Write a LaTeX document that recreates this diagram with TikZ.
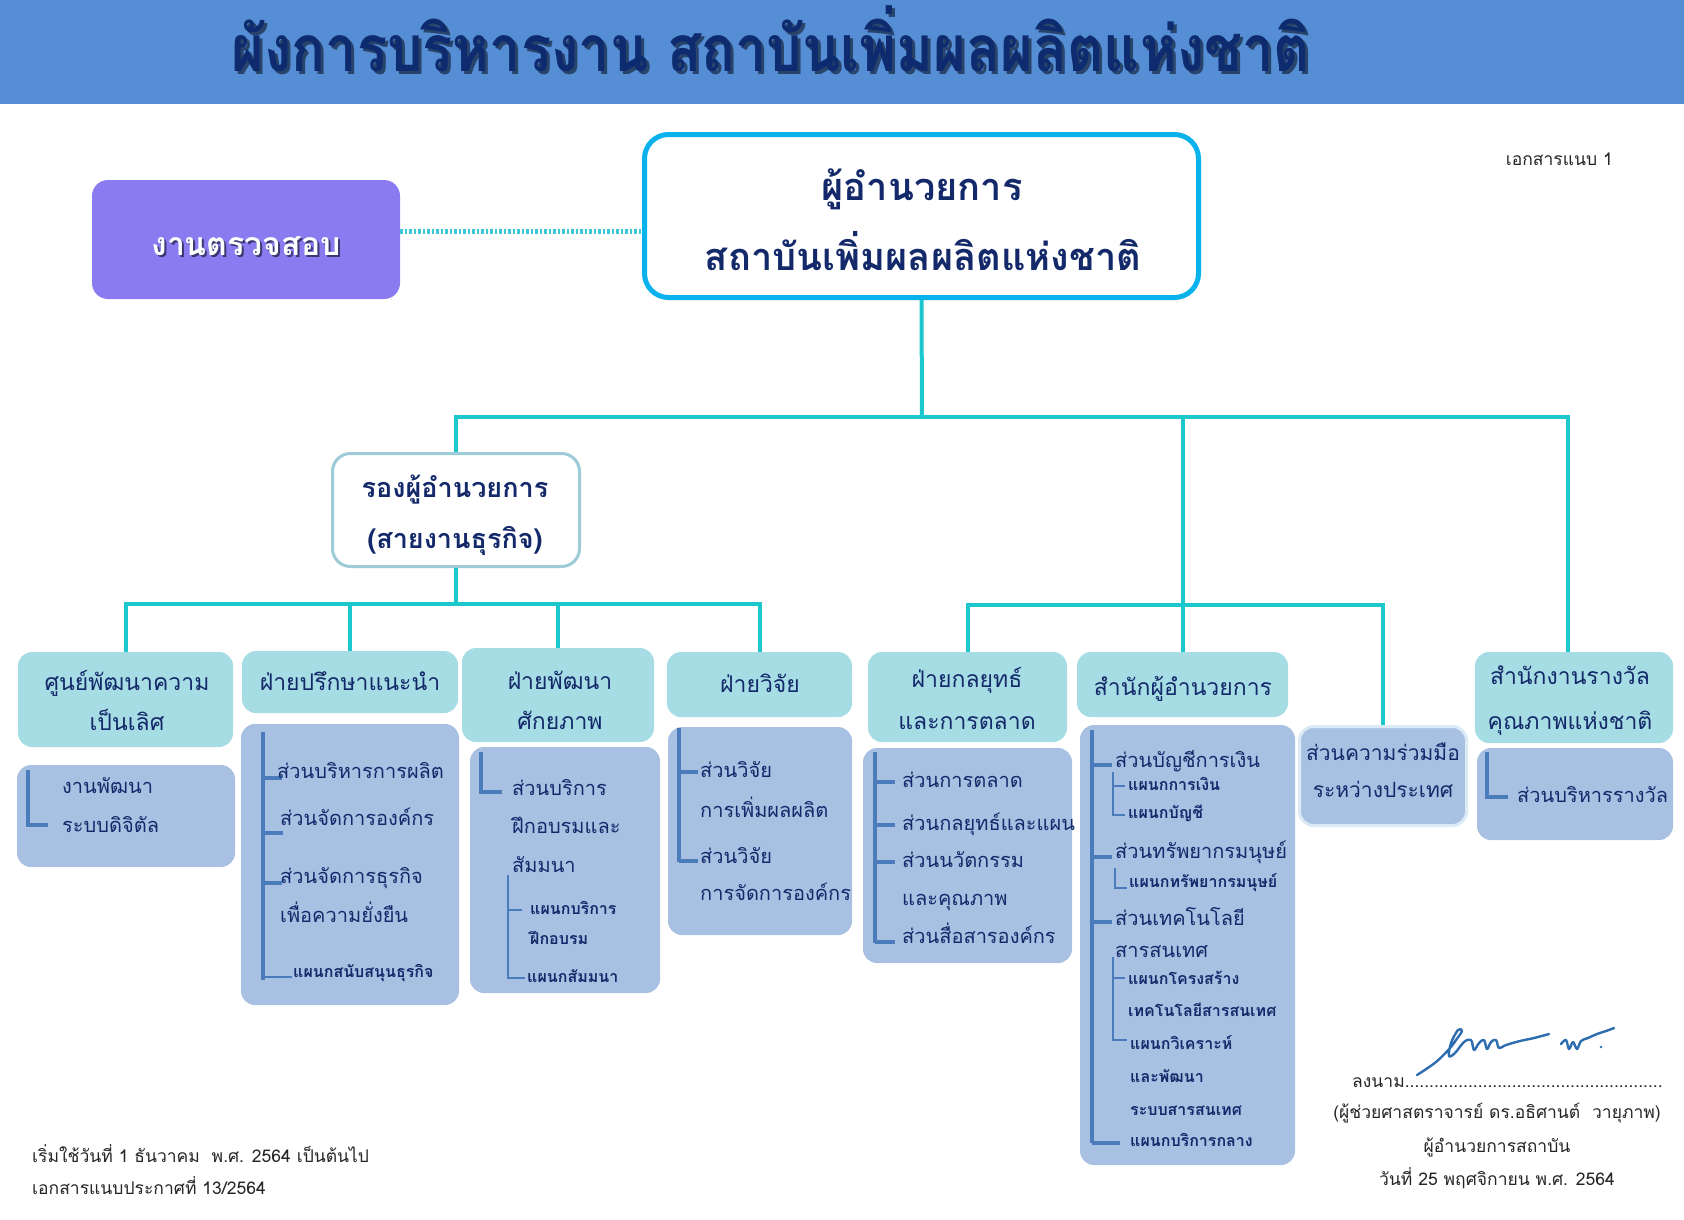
\documentclass[tikz,border=0pt]{standalone}
\usepackage{fontspec}
\setmainfont{Loma}[Script=Thai]
\definecolor{barblue}{HTML}{558ED5}
\definecolor{navy}{HTML}{13296A}
\definecolor{titlenavy}{HTML}{0D2B6E}
\definecolor{auditcol}{HTML}{8A7CF0}
\definecolor{mainb}{HTML}{0AB2EC}
\definecolor{conncol}{HTML}{1CC7CD}
\definecolor{dotcol}{HTML}{3CC8D8}
\definecolor{depb}{HTML}{9DCBD8}
\definecolor{lvtwo}{HTML}{A6DCE3}
\definecolor{lvthree}{HTML}{A8C0E2}
\definecolor{cborder}{HTML}{DCEAF6}
\definecolor{treec}{HTML}{4A7BBA}
\definecolor{sigblue}{HTML}{2E6DB0}
\begin{document}
\begin{tikzpicture}[x=1pt,y=-1pt,
  conn/.style={draw=conncol,line width=4pt},
  lvtwobox/.style={fill=lvtwo,rounded corners=14pt,inner sep=0pt},
  lvthreebox/.style={fill=lvthree,rounded corners=14pt,inner sep=0pt},
  ttwo/.style={text=navy,font=\fontsize{23}{27}\selectfont,inner sep=0pt,anchor=mid,yshift=-4.5pt},
  titem/.style={text=navy,font=\fontsize{20}{24}\selectfont,inner sep=0pt,anchor=mid west,yshift=-2.5pt},
  tsub/.style={text=navy,font=\bfseries\fontsize{16}{20}\selectfont,inner sep=0pt,anchor=mid west,yshift=-2pt},
  trunk/.style={draw=treec,line width=3.5pt},
  twig/.style={draw=treec,line width=1.5pt},
  plain/.style={text=black!85,font=\fontsize{17.5}{22}\selectfont,inner sep=0pt,anchor=mid,yshift=-3pt}
]
\useasboundingbox (0,0) rectangle (1684,1219);
\fill[white] (0,0) rectangle (1684,1219);
% title bar
\fill[barblue] (0,0) rectangle (1684,104);
\node[font=\bfseries\fontsize{64}{68}\selectfont,text=black!80!navy,opacity=0.55,inner sep=0pt,anchor=mid] (titleshadow) at (774,72) {\scalebox{0.875}[1]{ผังการบริหารงาน สถาบันเพิ่มผลผลิตแห่งชาติ}};
\node[font=\bfseries\fontsize{64}{68}\selectfont,text=titlenavy,inner sep=0pt,anchor=mid] (title) at (771,69) {\scalebox{0.875}[1]{ผังการบริหารงาน สถาบันเพิ่มผลผลิตแห่งชาติ}};
\node[plain,anchor=mid east] (annex) at (1613,160) {เอกสารแนบ 1};

% top boxes
\node[fill=auditcol,rounded corners=16pt,minimum width=308pt,minimum height=119pt,inner sep=0pt] (audit) at (246,239.5) {};
\node[font=\bfseries\fontsize{32}{36}\selectfont,text=black!70!navy,opacity=0.6,inner sep=0pt,anchor=mid] (auditsh) at (248,255) {งานตรวจสอบ};
\node[font=\bfseries\fontsize{32}{36}\selectfont,text=white,inner sep=0pt,anchor=mid] (audittxt) at (246,253) {งานตรวจสอบ};
\node[draw=mainb,line width=5pt,fill=white,rounded corners=24pt,minimum width=554pt,minimum height=163pt,inner sep=0pt] (main) at (921.5,216) {};
\node[text=navy,font=\bfseries\fontsize{38}{42}\selectfont,inner sep=0pt,anchor=mid] (main1) at (922,198) {ผู้อำนวยการ};
\node[text=navy,font=\bfseries\fontsize{38}{42}\selectfont,inner sep=0pt,anchor=mid] (main2) at (923,268) {สถาบันเพิ่มผลผลิตแห่งชาติ};
\draw[draw=dotcol,line width=5pt,dash pattern=on 2.5pt off 2pt] ([yshift=8.5pt]audit.east) -- (main.west |- 0,231);

\node[draw=depb,line width=3pt,fill=white,rounded corners=18pt,minimum width=247pt,minimum height=113pt,inner sep=0pt] (dep) at (456,510) {};
\node[text=navy,font=\bfseries\fontsize{27}{31}\selectfont,inner sep=0pt,anchor=mid] (dep1) at (455,495) {รองผู้อำนวยการ};
\node[text=navy,font=\bfseries\fontsize{27}{31}\selectfont,inner sep=0pt,anchor=mid] (dep2) at (455,546) {(สายงานธุรกิจ)};

% level 2 boxes
\node[lvtwobox,minimum width=215pt,minimum height=95pt] (b1) at (125.5,699.5) {};
\node[lvtwobox,minimum width=216pt,minimum height=62pt] (b2) at (350,682) {};
\node[lvtwobox,minimum width=192pt,minimum height=94pt] (b3) at (558,695) {};
\node[lvtwobox,minimum width=185pt,minimum height=65pt] (b4) at (759.5,684.5) {};
\node[lvtwobox,minimum width=199pt,minimum height=90pt] (b5) at (967.5,697) {};
\node[lvtwobox,minimum width=211pt,minimum height=65pt] (b6) at (1182.5,684.5) {};
\node[lvtwobox,minimum width=198pt,minimum height=91pt] (b7) at (1574,697.5) {};
\node[ttwo] (b1a) at (127,683) {ศูนย์พัฒนาความ};
\node[ttwo] (b1b) at (127,723) {เป็นเลิศ};
\node[ttwo] (b2a) at (350,683) {ฝ่ายปรึกษาแนะนำ};
\node[ttwo] (b3a) at (560,682) {ฝ่ายพัฒนา};
\node[ttwo] (b3b) at (560,722) {ศักยภาพ};
\node[ttwo] (b4a) at (760,685) {ฝ่ายวิจัย};
\node[ttwo] (b5a) at (967,680) {ฝ่ายกลยุทธ์};
\node[ttwo] (b5b) at (967,722) {และการตลาด};
\node[ttwo] (b6a) at (1183,688) {สำนักผู้อำนวยการ};
\node[ttwo] (b7a) at (1570,677) {สำนักงานรางวัล};
\node[ttwo] (b7b) at (1570,722) {คุณภาพแห่งชาติ};

% level 3 boxes
\node[lvthreebox,minimum width=218pt,minimum height=102pt] (c1) at (126,816) {};
\node[lvthreebox,minimum width=218pt,minimum height=281pt] (c2) at (350,864.5) {};
\node[lvthreebox,minimum width=190pt,minimum height=246pt] (c3) at (565,870) {};
\node[lvthreebox,minimum width=184pt,minimum height=208pt] (c4) at (760,831) {};
\node[lvthreebox,minimum width=209pt,minimum height=215pt] (c5) at (967.5,855.5) {};
\node[lvthreebox,minimum width=215pt,minimum height=440pt] (c6) at (1187.5,945) {};
\node[lvthreebox,draw=cborder,line width=3pt,minimum width=167pt,minimum height=99pt] (c7) at (1383,776) {};
\node[lvthreebox,minimum width=196pt,minimum height=92pt] (c8) at (1575,794) {};

% connectors
\coordinate (busT) at (922,417);
\coordinate (busL) at (456,604);
\coordinate (busR) at (1182.5,605);
\draw[conn] (main.south) -- (busT);
\draw[conn] (dep.north) |- (busT) -| ([xshift=-6pt]b7.north);
\draw[conn] (b6.north) -- (b6.north |- busT);
\draw[conn] (dep.south) -- (busL);
\draw[conn] (b1.north) |- (busL) -| (b4.north);
\draw[conn] (b2.north) -- (b2.north |- busL);
\draw[conn] (b3.north) -- (b3.north |- busL);
\draw[conn] (b5.north) |- (busR) -| (c7.north);

% c1
\draw[trunk] (28,770) -- (28,825) -- (48,825);
\node[titem] (c1a) at (62,788) {งานพัฒนา};
\node[titem] (c1b) at (62,827) {ระบบดิจิตัล};

% c2
\draw[trunk] (263,732) -- (263,980);
\draw[trunk] (263,778) -- (282,778);
\draw[trunk] (263,833) -- (283,833);
\draw[trunk] (263,883) -- (282,883);
\draw[twig] (263,977) -- (292,977);
\node[titem] (c2a) at (277,773) {ส่วนบริหารการผลิต};
\node[titem] (c2b) at (280,820) {ส่วนจัดการองค์กร};
\node[titem] (c2c) at (280,878) {ส่วนจัดการธุรกิจ};
\node[titem] (c2d) at (280,917) {เพื่อความยั่งยืน};
\node[tsub] (c2e) at (293,973) {แผนกสนับสนุนธุรกิจ};

% c3
\draw[trunk] (481,752) -- (481,792) -- (502,792);
\node[titem] (c3a) at (512,790) {ส่วนบริการ};
\node[titem] (c3b) at (512,828) {ฝึกอบรมและ};
\node[titem] (c3c) at (512,867) {สัมมนา};
\draw[twig] (508,875) -- (508,978) -- (525,978);
\draw[twig] (508,910) -- (522,910);
\node[tsub] (c3d) at (530,910) {แผนกบริการ};
\node[tsub] (c3e) at (530,940) {ฝึกอบรม};
\node[tsub] (c3f) at (527,978) {แผนกสัมมนา};

% c4
\draw[trunk] (679,728) -- (679,862);
\draw[trunk] (679,772) -- (698,772);
\draw[trunk] (679,861) -- (698,861);
\node[titem] (c4a) at (700,772) {ส่วนวิจัย};
\node[titem] (c4b) at (700,812) {การเพิ่มผลผลิต};
\node[titem] (c4c) at (700,858) {ส่วนวิจัย};
\node[titem] (c4d) at (700,895) {การจัดการองค์กร};

% c5
\draw[trunk] (875,752) -- (875,943);
\draw[trunk] (875,782) -- (895,782);
\draw[trunk] (875,825) -- (895,825);
\draw[trunk] (875,862) -- (895,862);
\draw[trunk] (875,942) -- (895,942);
\node[titem] (c5a) at (902,782) {ส่วนการตลาด};
\node[titem] (c5b) at (902,825) {ส่วนกลยุทธ์และแผน};
\node[titem] (c5c) at (902,862) {ส่วนนวัตกรรม};
\node[titem] (c5d) at (902,900) {และคุณภาพ};
\node[titem] (c5e) at (902,938) {ส่วนสื่อสารองค์กร};

% c6
\draw[trunk] (1092,730) -- (1092,1143);
\draw[trunk] (1092,765) -- (1112,765);
\draw[trunk] (1092,857) -- (1112,857);
\draw[trunk] (1092,922) -- (1112,922);
\draw[trunk] (1092,1143) -- (1120,1143);
\draw[twig] (1113,772) -- (1113,815) -- (1125,815);
\draw[twig] (1113,786) -- (1125,786);
\draw[twig] (1115,868) -- (1115,888) -- (1127,888);
\draw[twig] (1113,957) -- (1113,1040) -- (1127,1040);
\draw[twig] (1113,978) -- (1125,978);
\node[titem] (c6a) at (1115,762) {ส่วนบัญชีการเงิน};
\node[tsub] (c6b) at (1128,786) {แผนกการเงิน};
\node[tsub] (c6c) at (1128,814) {แผนกบัญชี};
\node[titem] (c6d) at (1115,853) {ส่วนทรัพยากรมนุษย์};
\node[tsub] (c6e) at (1129,883) {แผนกทรัพยากรมนุษย์};
\node[titem] (c6f) at (1115,920) {ส่วนเทคโนโลยี};
\node[titem] (c6g) at (1115,952) {สารสนเทศ};
\node[tsub] (c6h) at (1128,980) {แผนกโครงสร้าง};
\node[tsub] (c6i) at (1128,1012) {เทคโนโลยีสารสนเทศ};
\node[tsub] (c6j) at (1130,1045) {แผนกวิเคราะห์};
\node[tsub] (c6k) at (1130,1078) {และพัฒนา};
\node[tsub] (c6l) at (1130,1111) {ระบบสารสนเทศ};
\node[tsub] (c6m) at (1130,1142) {แผนกบริการกลาง};

% c7, c8
\node[ttwo,font=\fontsize{21}{25}\selectfont] (c7a) at (1383,753) {ส่วนความร่วมมือ};
\node[ttwo,font=\fontsize{21}{25}\selectfont] (c7b) at (1383,790) {ระหว่างประเทศ};
\draw[trunk] (1487,752) -- (1487,797) -- (1508,797);
\node[titem] (c8a) at (1517,797) {ส่วนบริหารรางวัล};

% footer left
\node[plain,anchor=mid west] (foot1) at (32,1157) {เริ่มใช้วันที่ 1 ธันวาคม~~พ.ศ. 2564 เป็นต้นไป};
\node[plain,anchor=mid west] (foot2) at (32,1189) {เอกสารแนบประกาศที่ 13/2564};

% signature block
\draw[sigblue,line width=2.4pt,line cap=round,line join=round] plot[smooth,tension=0.6] coordinates {(1417,1075) (1436,1062) (1450,1048) (1456,1040) (1462,1031) (1458,1030) (1451,1043) (1449,1056) (1455,1053) (1464,1042) (1471,1040) (1474,1050) (1479,1043) (1484,1040) (1487,1049) (1491,1042) (1496,1040) (1499,1048) (1506,1045) (1520,1041) (1534,1038) (1549,1034)};
\draw[sigblue,line width=2.4pt,line cap=round,line join=round] plot[smooth,tension=0.6] coordinates {(1561,1044) (1566,1040) (1569,1049) (1573,1042) (1577,1049) (1581,1041) (1588,1038) (1597,1034) (1606,1031) (1614,1028)};
\fill[sigblue] (1601,1047) circle (1.4);
\node[plain,anchor=mid west] (signline) at (1352,1082) {ลงนาม.....................................................};
\node[plain] (signame) at (1497,1113) {(ผู้ช่วยศาสตราจารย์ ดร.อธิศานต์~~วายุภาพ)};
\node[plain] (signpos) at (1497,1147) {ผู้อำนวยการสถาบัน};
\node[plain] (signdate) at (1497,1180) {วันที่ 25 พฤศจิกายน พ.ศ. 2564};
\end{tikzpicture}
\end{document}
